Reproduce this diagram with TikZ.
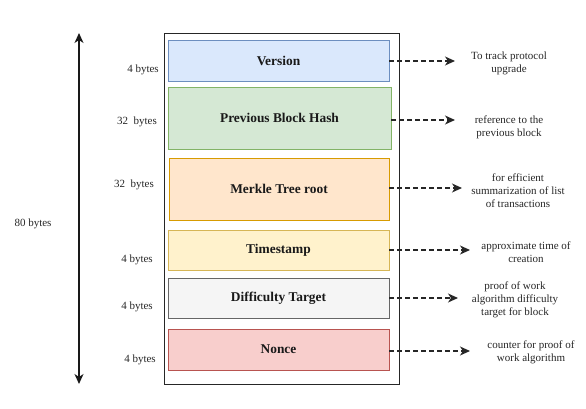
\documentclass[tikz,border=0pt]{standalone}
\usepackage{fontspec}
\setmainfont{Liberation Serif}
\usetikzlibrary{arrows.meta}
\definecolor{bfill}{HTML}{DAE8FC}\definecolor{bline}{HTML}{6C8EBF}
\definecolor{gfill}{HTML}{D5E8D4}\definecolor{gline}{HTML}{82B366}
\definecolor{ofill}{HTML}{FFE6CC}\definecolor{oline}{HTML}{D79B00}
\definecolor{yfill}{HTML}{FFF2CC}\definecolor{yline}{HTML}{D6B656}
\definecolor{sfill}{HTML}{F5F5F5}\definecolor{sline}{HTML}{666666}
\definecolor{rfill}{HTML}{F8CECC}\definecolor{rline}{HTML}{B85450}
\begin{document}
\begin{tikzpicture}[x=1pt,y=-1pt,
  field/.style={draw=#1line,fill=#1fill,line width=0.8pt,minimum width=221pt,inner sep=0pt,
    font=\fontsize{13.4}{15}\selectfont\bfseries,text=black!90},
  note/.style={align=center,font=\fontsize{11}{13}\selectfont,text=black!85,yshift=-1.5pt},
  lab/.style={font=\fontsize{11}{12}\selectfont,text=black!85,yshift=-1.5pt},
  darr/.style={dashed,dash pattern=on 4.5pt off 3.5pt,line width=1.2pt,-{Stealth[length=10pt,width=9pt,inset=3pt]},black!85}]
\useasboundingbox (0,0) rectangle (586,409);
\node[draw=black!85,line width=0.9pt,minimum width=235pt,minimum height=351pt,inner sep=0pt] (outer) at (281.5,208.5) {};
\node[field=b,minimum height=41pt] (ver) at (278.5,60.5) {Version};
\node[field=g,minimum height=62pt,minimum width=223pt] (prev) at (279.5,118) {Previous Block Hash};
\node[field=o,minimum height=62pt,minimum width=220pt] (merk) at (279,189) {Merkle Tree root};
\node[field=y,minimum height=40pt] (ts) at (278.5,250) {Timestamp};
\node[field=s,minimum height=40pt] (diff) at (278.5,298) {Difficulty Target};
\node[field=r,minimum height=41pt] (nonce) at (278.5,349.5) {Nonce};

\coordinate (atop) at (79,33);
\coordinate (abot) at (79,384);
\draw[line width=1.4pt,black!90,{Stealth[length=10pt,width=9pt,inset=3pt]}-{Stealth[length=10pt,width=9pt,inset=3pt]}] (atop) -- (abot);
\node[lab] (l80) at (33,222) {80 bytes};
\node[lab] (l1) at (143,68) {4 bytes};
\node[lab] (l2) at (137,120) {32\ \ bytes};
\node[lab] (l3) at (134,183) {32\ \ bytes};
\node[lab] (l4) at (137,258) {4 bytes};
\node[lab] (l5) at (137,305) {4 bytes};
\node[lab] (l6) at (140,358) {4 bytes};

\node[note] (n1) at (509,62) {To track protocol\\upgrade};
\node[note] (n2) at (509,126) {reference to the\\previous block};
\node[note] (n3) at (518,189) {for efficient\\summarization of list\\of transactions};
\node[note] (n4) at (526,251) {approximate time of\\creation};
\node[note] (n5) at (515,298) {proof of work\\algorithm difficulty\\target for block};
\node[note] (n6) at (531,351) {counter for proof of\\work algorithm};

\coordinate (e1) at (455,61);
\coordinate (e2) at (455,120);
\coordinate (e3) at (462,188);
\coordinate (e4) at (470,250);
\coordinate (e5) at (458,298);
\coordinate (e6) at (470,351);
\draw[darr] (ver.east |- e1) -- (e1);
\draw[darr] (prev.east |- e2) -- (e2);
\draw[darr] (merk.east |- e3) -- (e3);
\draw[darr] (ts.east |- e4) -- (e4);
\draw[darr] (diff.east |- e5) -- (e5);
\draw[darr] (nonce.east |- e6) -- (e6);
\end{tikzpicture}
\end{document}
